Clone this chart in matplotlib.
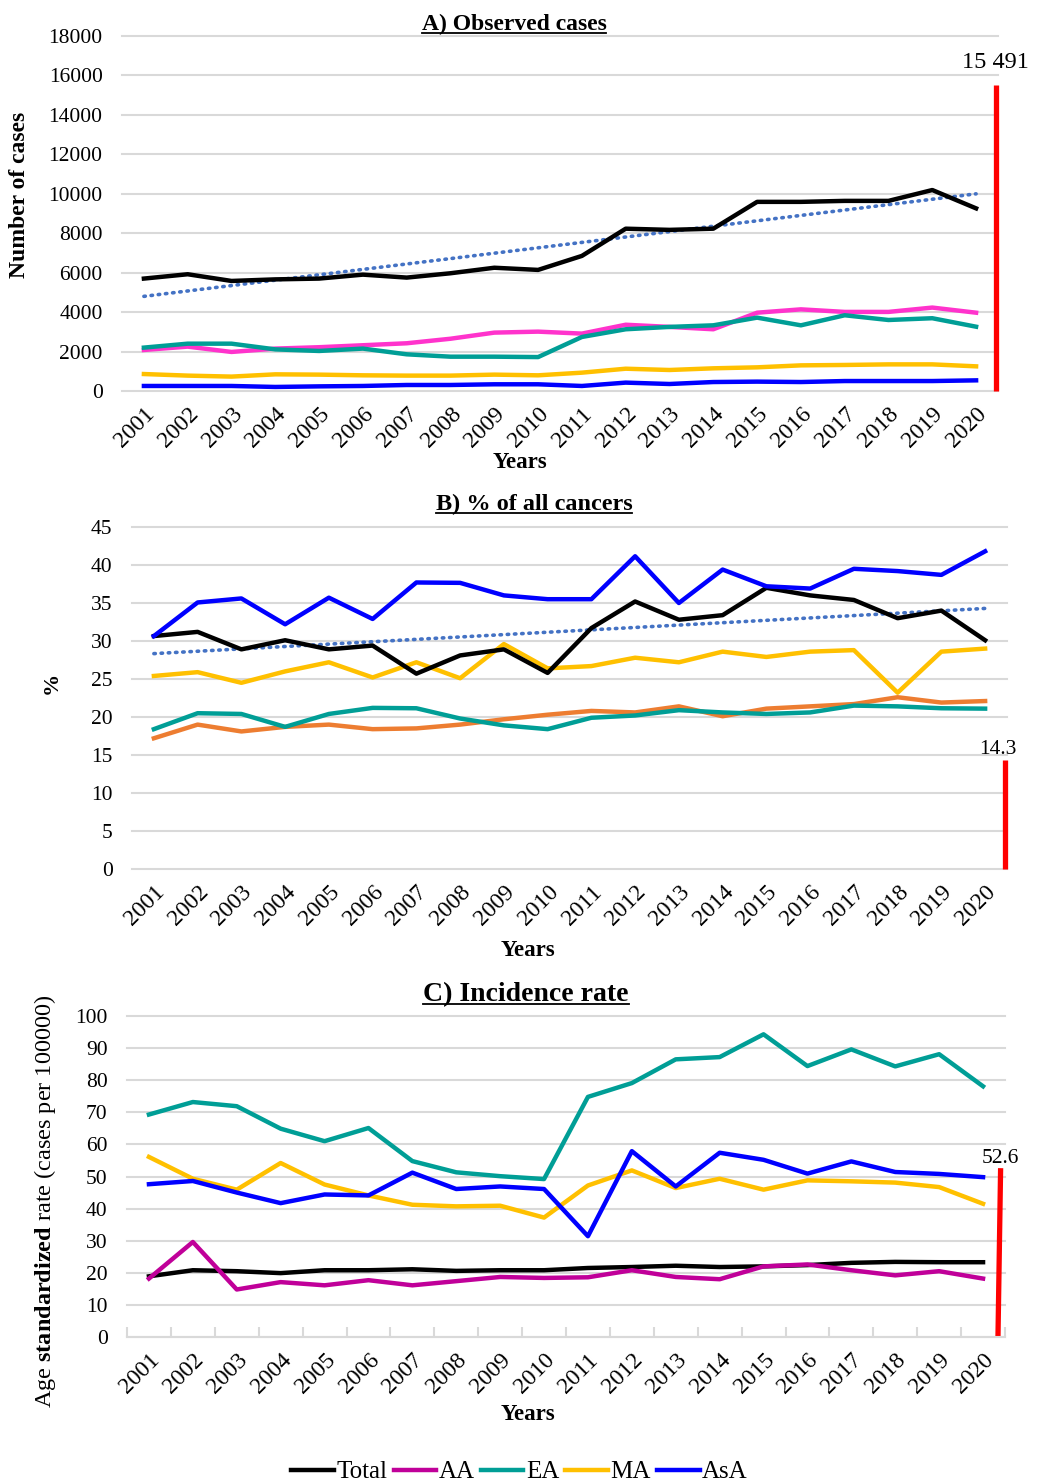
import numpy as np
import matplotlib.pyplot as plt
from matplotlib.lines import Line2D

plt.rcParams['font.family'] = ['Liberation Serif', 'DejaVu Serif']
plt.rcParams['mathtext.fontset'] = 'custom'
plt.rcParams['mathtext.rm'] = 'Liberation Serif'
plt.rcParams['mathtext.bf'] = 'Liberation Serif:bold'

years = list(range(2001, 2021))

# A) observed cases
obs_total = [5700, 5920, 5580, 5660, 5700, 5900, 5750, 5970, 6250, 6140,
             6850, 8230, 8170, 8230, 9590, 9590, 9640, 9640, 10190, 9260]
obs_aa = [2080, 2250, 1980, 2150, 2220, 2320, 2420, 2650, 2960, 3010,
          2910, 3360, 3250, 3130, 3970, 4140, 4010, 4010, 4230, 3970]
obs_ea = [2200, 2400, 2400, 2110, 2030, 2150, 1860, 1740, 1740, 1720,
          2740, 3130, 3250, 3330, 3720, 3330, 3840, 3600, 3690, 3260]
obs_ma = [860, 780, 730, 845, 830, 795, 780, 780, 830, 795,
          930, 1130, 1065, 1150, 1200, 1300, 1320, 1350, 1350, 1250]
obs_asa = [255, 255, 255, 205, 235, 255, 305, 305, 340, 340,
           255, 425, 355, 455, 475, 455, 505, 505, 505, 540]
obs_all = 15491

# B) % of all cancers
pct_total = [30.65, 31.2, 28.9, 30.1, 28.9, 29.4, 25.7, 28.1, 28.9, 25.8,
             31.7, 35.2, 32.8, 33.4, 37.0, 36.0, 35.4, 33.0, 34.0, 30.1]
pct_aa = [17.2, 19.0, 18.1, 18.7, 19.0, 18.4, 18.5, 19.0, 19.7, 20.3,
          20.8, 20.6, 21.4, 20.1, 21.1, 21.4, 21.7, 22.6, 21.9, 22.1]
pct_ea = [18.4, 20.5, 20.4, 18.7, 20.4, 21.2, 21.15, 19.8, 18.9, 18.4,
          19.9, 20.2, 20.9, 20.6, 20.4, 20.6, 21.5, 21.4, 21.15, 21.1]
pct_ma = [25.4, 25.9, 24.5, 26.0, 27.2, 25.2, 27.2, 25.1, 29.6, 26.4,
          26.7, 27.8, 27.2, 28.6, 27.9, 28.6, 28.8, 23.2, 28.6, 29.0]
pct_asa = [30.65, 35.07, 35.6, 32.2, 35.7, 32.9, 37.7, 37.65, 36.0, 35.5,
           35.5, 41.15, 35.0, 39.4, 37.2, 36.9, 39.5, 39.2, 38.7, 41.8]
pct_all = 14.3

# C) incidence rate
asr_total = [18.9, 20.8, 20.5, 19.9, 20.8, 20.8, 21.1, 20.6, 20.8, 20.8,
             21.5, 21.8, 22.2, 21.8, 22.0, 22.4, 23.1, 23.4, 23.3, 23.3]
asr_aa = [18.2, 29.6, 14.8, 17.1, 16.1, 17.7, 16.1, 17.4, 18.7, 18.4,
          18.6, 20.8, 18.7, 18.0, 22.0, 22.6, 20.8, 19.2, 20.5, 18.2]
asr_ea = [69.3, 73.2, 71.9, 64.9, 61.0, 65.1, 54.8, 51.3, 50.1, 49.2,
          74.8, 79.1, 86.5, 87.2, 94.3, 84.4, 89.6, 84.3, 88.1, 78.1]
asr_ma = [56.1, 49.3, 45.9, 54.2, 47.5, 44.1, 41.2, 40.7, 40.9, 37.2,
          47.2, 51.9, 46.4, 49.3, 45.9, 48.8, 48.5, 48.1, 46.7, 41.5]
asr_asa = [47.6, 48.6, 45.0, 41.7, 44.4, 44.1, 51.2, 46.1, 46.9, 46.1,
           31.4, 57.9, 46.9, 57.4, 55.2, 50.9, 54.7, 51.4, 50.8, 49.8]
asr_all = 52.6

BLACK = 'black'
TEAL = '#009E96'
YELLOW = '#FFC000'
BLUE = '#0000FF'
PINK = '#FF33CC'
ORANGE = '#ED7D31'
MAGENTA = '#C00099'
TREND = '#4472C4'
GRID = '#D9D9D9'

W, H = 1039, 1482
fig = plt.figure(figsize=(W / 100, H / 100), dpi=100)


def px_axes(x0, y0, x1, y1):
    return fig.add_axes([x0 / W, 1 - y1 / H, (x1 - x0) / W, (y1 - y0) / H])


axA = px_axes(122, 36, 998, 391)
axB = px_axes(132, 527, 1007, 869)
axC = px_axes(127, 1016, 1005, 1337)


def style(ax, ymax, step, fs):
    ax.set_xlim(2000.5, 2020.5)
    ax.set_ylim(0, ymax)
    ax.set_yticks(np.arange(0, ymax + step / 2, step))
    ax.yaxis.grid(True, color=GRID, lw=1.5)
    for g in ax.get_ygridlines():
        g.set_clip_on(False)
    ax.set_axisbelow(True)
    for s in ax.spines.values():
        s.set_visible(False)
    ax.set_xticks(years)
    ax.set_xticklabels([str(y) for y in years], rotation=45, ha='right',
                       rotation_mode='anchor')
    ax.tick_params(axis='both', length=0)
    ax.tick_params(axis='y', pad=14, labelsize=fs)
    ax.tick_params(axis='x', pad=9, labelsize=17)


def trend(ax, vals):
    k, b = np.polyfit(years, vals, 1)
    xs = np.array([years[0], years[-1]])
    ax.plot(xs, k * xs + b, color=TREND, lw=2.6, ls=(0, (0.4, 1.6)),
            dash_capstyle='round')


LW = 3.2

# panel A
style(axA, 18000, 2000, 15.5)
trend(axA, obs_total)
axA.plot(years, obs_asa, color=BLUE, lw=LW)
axA.plot(years, obs_ma, color=YELLOW, lw=LW)
axA.plot(years, obs_aa, color=PINK, lw=LW)
axA.plot(years, obs_ea, color=TEAL, lw=LW)
axA.plot(years, obs_total, color=BLACK, lw=LW)
axA.plot([2020.45, 2020.45], [0, obs_all], color='red', lw=3.8,
         solid_capstyle='butt', clip_on=False)
axA.text(2020.45, obs_all + 900, '15 491', ha='center', va='baseline',
         fontsize=17.5)

# panel B
style(axB, 45, 5, 15.5)
trend(axB, pct_total)
axB.plot(years, pct_aa, color=ORANGE, lw=LW)
axB.plot(years, pct_ea, color=TEAL, lw=LW)
axB.plot(years, pct_ma, color=YELLOW, lw=LW)
axB.plot(years, pct_total, color=BLACK, lw=LW)
axB.plot(years, pct_asa, color=BLUE, lw=LW)
axB.plot([2020.45, 2020.45], [0, pct_all], color='red', lw=3.8,
         solid_capstyle='butt', clip_on=False)
axB.text(2020.28, pct_all + 0.8, '14.3', ha='center', va='baseline',
         fontsize=15.5)

# panel C
style(axC, 100, 10, 15.5)
axC.spines['bottom'].set_visible(True)
axC.spines['bottom'].set_color(GRID)
axC.spines['bottom'].set_linewidth(1.5)
axC.set_xticks(np.arange(2000.5, 2021, 1), minor=True)
axC.tick_params(axis='x', which='minor', direction='in', length=7,
                width=1.5, color=GRID)
axC.plot(years, asr_total, color=BLACK, lw=LW)
axC.plot(years, asr_aa, color=MAGENTA, lw=LW)
axC.plot(years, asr_ea, color=TEAL, lw=LW)
axC.plot(years, asr_ma, color=YELLOW, lw=LW)
axC.plot(years, asr_asa, color=BLUE, lw=LW)
axC.plot([2020.34, 2020.40], [0, asr_all], color='red', lw=3.8,
         solid_capstyle='butt', clip_on=False)
axC.text(2020.39, asr_all + 1.6, '52.6', ha='center', va='baseline',
         fontsize=15.5)

# axis labels
fig.text(20 / W, 1 - 195 / H, 'Number of cases', rotation=90, ha='center',
         va='center', fontsize=17, fontweight='bold')
fig.text(52 / W, 1 - 683 / H, '%', rotation=90, ha='center', va='center',
         fontsize=16, fontweight='bold')
fig.text(45 / W, 1 - 1201 / H,
         r'Age $\mathbf{standardized}$ rate (cases per 100000)',
         rotation=90, ha='center', va='center', fontsize=17.5)
for xc, yc in [(520, 463), (528, 950), (528, 1415)]:
    fig.text(xc / W, 1 - yc / H, 'Years', ha='center', va='center',
             fontsize=16.5, fontweight='bold')

# underlined panel titles
titles = []
for txt, xc, yb, fs in [('A) Observed cases', 514, 30.5, 17),
                        ('B) % of all cancers', 534, 510, 17.5),
                        ('C) Incidence rate', 526, 1001.5, 20)]:
    t = fig.text(xc / W, 1 - yb / H, txt, ha='center', va='baseline',
                 fontsize=fs, fontweight='bold')
    titles.append((t, yb))

# legend
handles = [Line2D([], [], color=c, lw=LW)
           for c in [BLACK, MAGENTA, TEAL, YELLOW, BLUE]]
fig.legend(handles, ['Total', 'AA', 'EA', 'MA', 'AsA'], loc='lower center',
           bbox_to_anchor=(0.5, -0.011), ncol=5, frameon=False, fontsize=18,
           handlelength=1.7, handletextpad=0.1, columnspacing=0.25,
           borderpad=0.1)

fig.canvas.draw()
r = fig.canvas.get_renderer()
for t, yb in titles:
    bb = t.get_window_extent(r)
    yl = 1 - (yb + 2.5) / H
    fig.add_artist(Line2D([bb.x0 / W, bb.x1 / W], [yl, yl], color='black',
                          lw=1.3, transform=fig.transFigure))

fig.savefig('out.png', dpi=100)
